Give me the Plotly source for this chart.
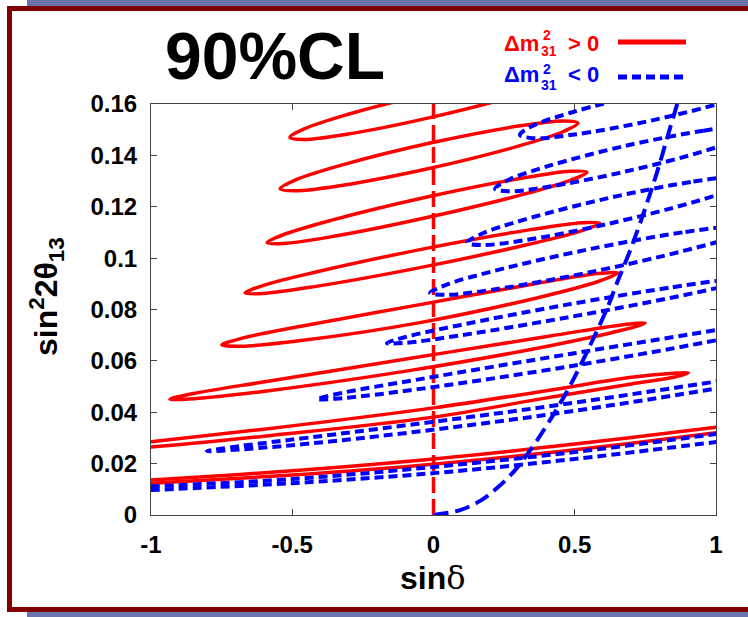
import plotly.graph_objects as go

W, H = 748, 617
ML, MR, MT, MB = 151, 32, 104, 102
PW = W - ML - MR
PH = H - MT - MB


def fx(px):
    return (px - ML) / PW


def fy(py):
    return (H - MB - py) / PH


# ---------------- data ----------------
# x-axis: sin(delta), y-axis: sin^2(2 theta13)
x_ticks = [-1, -0.5, 0, 0.5, 1]
x_tick_text = ["-1", "-0.5", "0", "0.5", "1"]
y_ticks = [0, 0.02, 0.04, 0.06, 0.08, 0.10, 0.12, 0.14, 0.16]
y_tick_text = ["0", "0.02", "0.04", "0.06", "0.08", "0.1", "0.12", "0.14", "0.16"]

# red solid contours (dm31^2 > 0), closed loops
red1_x = [-0.009, 0.290, 0.440, 0.490, 0.440, 0.290, -0.009, -0.308, -0.458, -0.508, -0.458, -0.308, -0.009]
red1_y = [0.1642, 0.1708, 0.1728, 0.1720, 0.1687, 0.1632, 0.1548, 0.1482, 0.1462, 0.1470, 0.1503, 0.1558, 0.1642]
red2_x = [-0.016, 0.300, 0.458, 0.511, 0.458, 0.300, -0.016, -0.332, -0.490, -0.543, -0.490, -0.332, -0.016]
red2_y = [0.1447, 0.1514, 0.1534, 0.1526, 0.1492, 0.1436, 0.1349, 0.1282, 0.1262, 0.1270, 0.1304, 0.1360, 0.1447]
red3_x = [-0.023, 0.317, 0.486, 0.543, 0.486, 0.317, -0.023, -0.363, -0.532, -0.589, -0.532, -0.363, -0.023]
red3_y = [0.1238, 0.1312, 0.1338, 0.1335, 0.1304, 0.1248, 0.1158, 0.1083, 0.1057, 0.1060, 0.1091, 0.1147, 0.1238]
red4_x = [-0.039, 0.338, 0.526, 0.589, 0.526, 0.338, -0.039, -0.416, -0.604, -0.667, -0.604, -0.416, -0.039]
red4_y = [0.1035, 0.1110, 0.1138, 0.1136, 0.1107, 0.1054, 0.0965, 0.0890, 0.0862, 0.0864, 0.0893, 0.0946, 0.1035]
red5_x = [-0.048, 0.373, 0.583, 0.653, 0.583, 0.373, -0.048, -0.469, -0.679, -0.749, -0.679, -0.469, -0.048]
red5_y = [0.0819, 0.0903, 0.0940, 0.0942, 0.0909, 0.0847, 0.0749, 0.0679, 0.0657, 0.0662, 0.0688, 0.0735, 0.0819]
red6_x = [-0.092, 0.413, 0.665, 0.749, 0.665, 0.413, -0.092, -0.597, -0.849, -0.933, -0.849, -0.597, -0.092]
red6_y = [0.0608, 0.0697, 0.0740, 0.0747, 0.0719, 0.0659, 0.0561, 0.0482, 0.0453, 0.0451, 0.0473, 0.0519, 0.0608]
red7_x = [0.0, 0.4, 0.7, 0.85, 0.902, 0.85, 0.7, 0.4, 0.0, -0.6, -1.0, -1.25, -1.0, -0.6, 0.0]
red7_y = [0.0417, 0.0484, 0.0536, 0.0552, 0.0553, 0.0536, 0.0510, 0.0456, 0.0381, 0.0307, 0.0265, 0.0250, 0.0285, 0.0334, 0.0417]
red8_x = [-1.05, -1.0, -0.5, 0.0, 0.5, 1.0, 1.05, None, -1.05, -1.0, -0.5, 0.0, 0.5, 1.0, 1.05]
red8_y = [0.0132, 0.0136, 0.0172, 0.0218, 0.0276, 0.0342, 0.0349, None, 0.0120, 0.0124, 0.0156, 0.0198, 0.0254, 0.0320, 0.0327]

# blue dotted contours (dm31^2 < 0)
blue1_x = [0.768, 1.045, 1.184, 1.23, 1.184, 1.045, 0.768, 0.491, 0.352, 0.306, 0.352, 0.491, 0.768]
blue1_y = [0.1645, 0.1700, 0.1713, 0.1700, 0.1665, 0.1612, 0.1535, 0.1480, 0.1467, 0.1480, 0.1515, 0.1568, 0.1645]
blue2_x = [0.679, 0.956, 1.094, 1.14, 1.094, 0.956, 0.679, 0.402, 0.264, 0.218, 0.264, 0.402, 0.679]
blue2_y = [0.1437, 0.1496, 0.1513, 0.1503, 0.1470, 0.1416, 0.1337, 0.1277, 0.1260, 0.1270, 0.1304, 0.1357, 0.1437]
blue3_x = [0.620, 0.920, 1.070, 1.12, 1.070, 0.920, 0.620, 0.319, 0.169, 0.119, 0.169, 0.319, 0.620]
blue3_y = [0.1234, 0.1298, 0.1316, 0.1307, 0.1273, 0.1218, 0.1134, 0.1069, 0.1051, 0.1060, 0.1094, 0.1149, 0.1234]
blue4_x = [0.553, 0.892, 1.062, 1.118, 1.062, 0.892, 0.553, 0.214, 0.045, -0.012, 0.045, 0.214, 0.553]
blue4_y = [0.1035, 0.1102, 0.1123, 0.1116, 0.1084, 0.1030, 0.0945, 0.0878, 0.0857, 0.0864, 0.0896, 0.0950, 0.1035]
blue5_x = [0.468, 0.847, 1.037, 1.1, 1.037, 0.847, 0.468, 0.088, -0.102, -0.165, -0.102, 0.088, 0.468]
blue5_y = [0.0818, 0.0887, 0.0915, 0.0916, 0.0893, 0.0847, 0.0768, 0.0698, 0.0670, 0.0669, 0.0692, 0.0738, 0.0818]
blue6_x = [0.5, 1.047, 1.321, 1.412, 1.321, 1.047, 0.5, -0.047, -0.321, -0.412, -0.321, -0.047, 0.5]
blue6_y = [0.0630, 0.0728, 0.0775, 0.0783, 0.0754, 0.0690, 0.0582, 0.0491, 0.0455, 0.0451, 0.0476, 0.0529, 0.0630]
blue7_x = [0.349, 1.040, 1.385, 1.5, 1.385, 1.040, 0.349, -0.342, -0.687, -0.802, -0.687, -0.342, 0.349]
blue7_y = [0.0414, 0.0526, 0.0585, 0.0601, 0.0571, 0.0500, 0.0382, 0.0289, 0.0255, 0.0249, 0.0268, 0.0315, 0.0414]
blue8_x = [-1.05, -1.0, -0.5, 0.0, 0.5, 1.0, 1.05, None, -1.05, -1.0, -0.5, 0.0, 0.5, 1.0, 1.05]
blue8_y = [0.0108, 0.0111, 0.0140, 0.0187, 0.0245, 0.0315, 0.0322, None, 0.0094, 0.0097, 0.0124, 0.0163, 0.0218, 0.0284, 0.0290]

# red dashed vertical line (sin delta = 0)
red_vline_x = [0.0, 0.0]
red_vline_y = [0.0, 0.16]

# blue dashed curve
blue_curve_x = [0.0, 0.094, 0.165, 0.225, 0.281, 0.317, 0.366, 0.423, 0.472, 0.519, 0.565, 0.613, 0.65, 0.696, 0.742, 0.79, 0.837, 0.866]
blue_curve_y = [0.0, 0.0019, 0.0055, 0.0105, 0.0165, 0.0214, 0.029, 0.0388, 0.048, 0.058, 0.0685, 0.080, 0.0905, 0.103, 0.117, 0.133, 0.1505, 0.1612]

red_loops = [(red1_x, red1_y), (red2_x, red2_y), (red3_x, red3_y), (red4_x, red4_y),
             (red5_x, red5_y), (red6_x, red6_y), (red7_x, red7_y), (red8_x, red8_y)]
blue_loops = [(blue1_x, blue1_y), (blue2_x, blue2_y), (blue3_x, blue3_y), (blue4_x, blue4_y),
              (blue5_x, blue5_y), (blue6_x, blue6_y), (blue7_x, blue7_y), (blue8_x, blue8_y)]

RED = "#ff0000"
BLUE = "#0000ff"
FONT = "Liberation Sans"

fig = go.Figure()
for xs, ys in red_loops:
    fig.add_trace(go.Scatter(x=xs, y=ys, mode="lines", showlegend=False, hoverinfo="skip",
                             line=dict(color=RED, width=3.5, shape="spline", smoothing=1.0)))
fig.add_trace(go.Scatter(x=red_vline_x, y=red_vline_y, mode="lines", showlegend=False, hoverinfo="skip",
                         line=dict(color=RED, width=3.5, dash="16px,6px")))
for xs, ys in blue_loops:
    fig.add_trace(go.Scatter(x=xs, y=ys, mode="lines", showlegend=False, hoverinfo="skip",
                             line=dict(color=BLUE, width=4, dash="9px,5px", shape="spline", smoothing=1.0)))
fig.add_trace(go.Scatter(x=blue_curve_x, y=blue_curve_y, mode="lines", showlegend=False, hoverinfo="skip",
                         line=dict(color=BLUE, width=4, dash="15px,7px", shape="spline", smoothing=1.0)))

axis_common = dict(showline=True, linecolor="#444", linewidth=1, mirror="ticks", ticks="inside",
                   ticklen=6, tickcolor="#444", tickwidth=1, showgrid=False, zeroline=False,
                   tickfont=dict(family=FONT, size=24, color="black", weight="bold"),
                   ticklabelstandoff=8)

fig.update_layout(
    width=W, height=H,
    margin=dict(l=ML, r=MR, t=MT, b=MB),
    paper_bgcolor="white", plot_bgcolor="white",
    xaxis=dict(range=[-1, 1], tickvals=x_ticks, ticktext=x_tick_text, **axis_common),
    yaxis=dict(range=[0, 0.16], tickvals=y_ticks, ticktext=y_tick_text, **axis_common),
)

shapes = [
    dict(type="rect", xref="paper", yref="paper", x0=fx(27), x1=fx(780), y0=fy(6), y1=fy(-6),
         fillcolor="#6b74aa", line=dict(width=0)),
    dict(type="rect", xref="paper", yref="paper", x0=fx(27), x1=fx(780), y0=fy(625), y1=fy(612),
         fillcolor="#6b74aa", line=dict(width=0)),
    dict(type="rect", xref="paper", yref="paper", x0=fx(9.5), x1=fx(780), y0=fy(609.5), y1=fy(8.5),
         fillcolor="rgba(0,0,0,0)", line=dict(color="#800000", width=5)),
    dict(type="line", xref="paper", yref="paper", x0=fx(618), x1=fx(686), y0=fy(42), y1=fy(42),
         line=dict(color=RED, width=5)),
    dict(type="line", xref="paper", yref="paper", x0=fx(618), x1=fx(686), y0=fy(77), y1=fy(77),
         line=dict(color=BLUE, width=5, dash="9px,5px")),
]


def ann(text, px, py, size, color="black", xanchor="left", yanchor="middle", angle=0):
    return dict(text=text, x=fx(px), y=fy(py), xref="paper", yref="paper", showarrow=False,
                xanchor=xanchor, yanchor=yanchor, textangle=angle,
                font=dict(family=FONT, size=size, color=color, weight="bold"))


annotations = [
    ann("90%CL", 275, 56, 66, xanchor="center"),
    ann("\u0394m", 502, 43, 22, RED),
    ann("2", 541, 35, 14, RED),
    ann("31", 539, 51, 14, RED),
    ann("&gt; 0", 566, 43, 22, RED),
    ann("\u0394m", 502, 75, 22, BLUE),
    ann("2", 541, 69, 14, BLUE),
    ann("31", 539, 85, 14, BLUE),
    ann("&lt; 0", 566, 75, 22, BLUE),
    ann("sin<span style='font-family:DejaVu Serif;font-weight:normal'>\u03b4</span>", 433, 578, 32,
        xanchor="center"),
    ann("sin<sup>2</sup>2\u03b8<sub>13</sub>", 46, 297, 32, xanchor="center", angle=-90),
]

fig.update_layout(shapes=shapes, annotations=annotations)
fig.write_html("out.html")
